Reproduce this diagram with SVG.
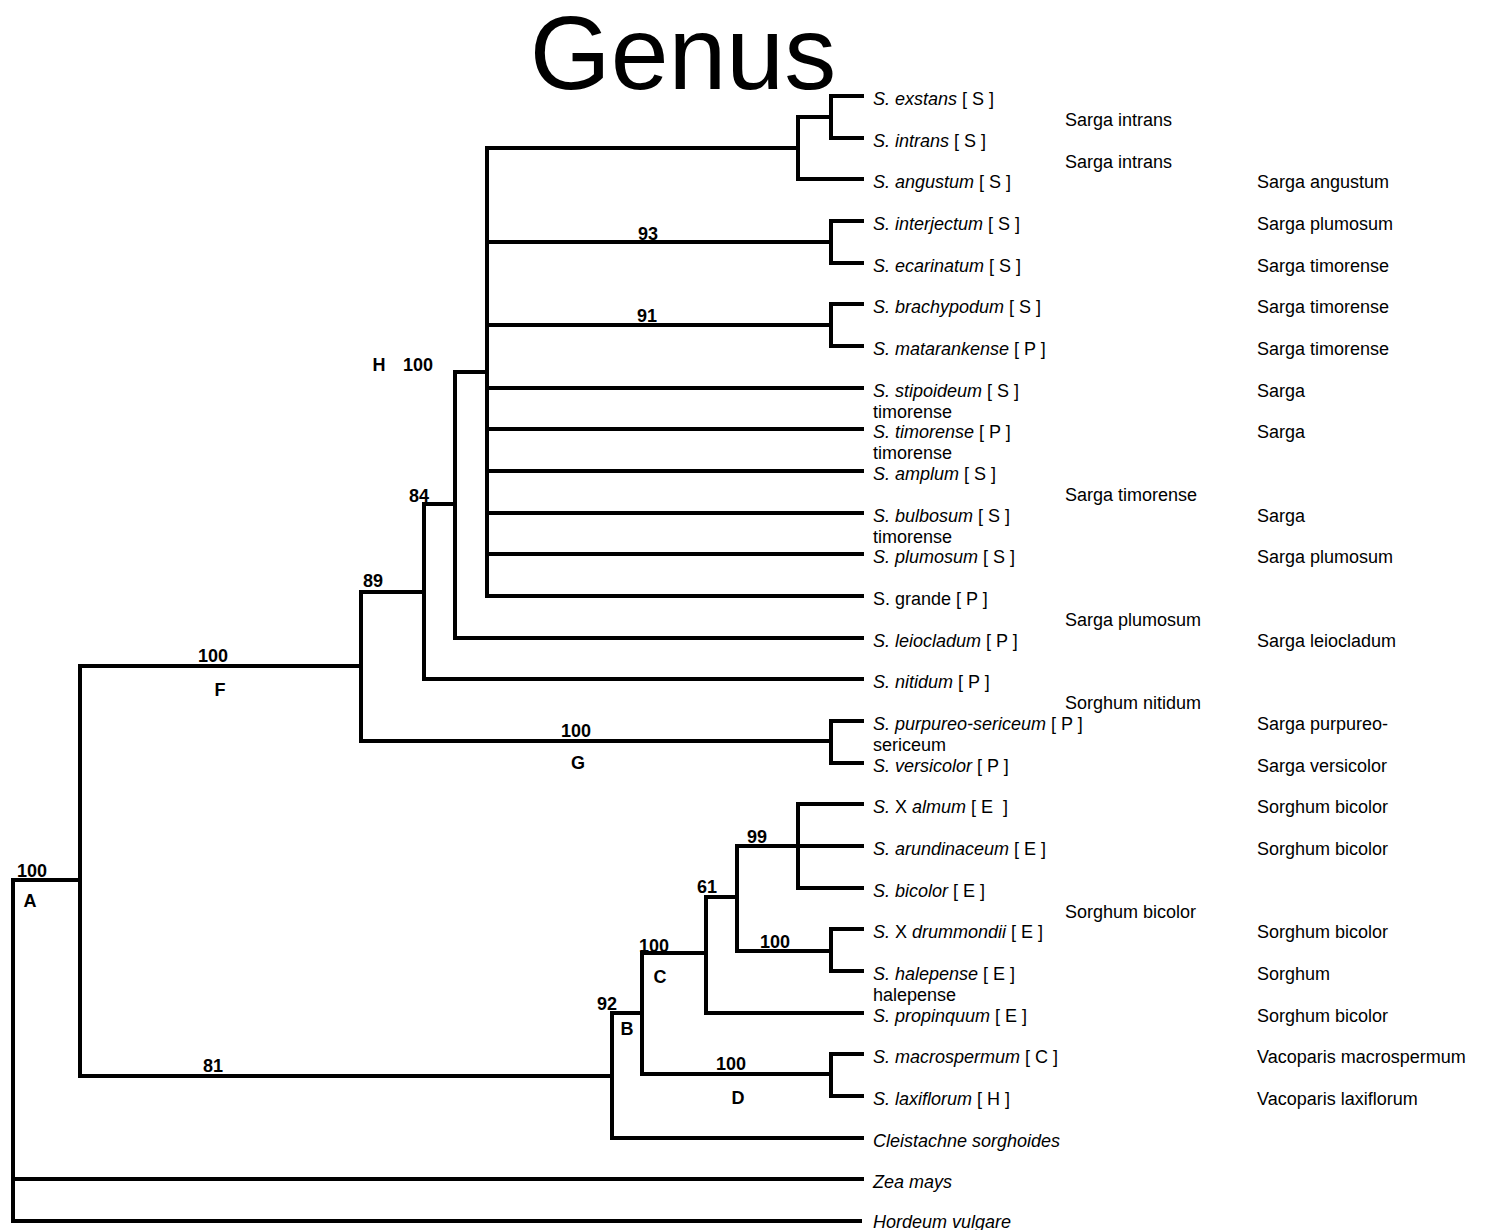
<svg xmlns="http://www.w3.org/2000/svg" width="1488" height="1230" viewBox="0 0 1488 1230">
<style>
.e{fill:none;stroke:#000;stroke-width:4;stroke-linejoin:miter;stroke-linecap:square}
text{font-family:"Liberation Sans",Arial,sans-serif;font-size:18px;fill:#000}
.i{font-style:italic}
.b{font-weight:bold;text-anchor:middle}
.title{font-size:104px;text-anchor:middle}
</style>
<rect width="1488" height="1230" fill="#fff"/>
<text class="title" x="683" y="89">Genus</text>
<g id="connectors">
<path class="e" d="M862,96H831V138H862M831,117H798M798,117V179H862M798,148H487"/>
<path class="e" d="M862,221H831V263H862M831,242H487"/>
<path class="e" d="M862,304H831V346H862M831,325H487"/>
<path class="e" d="M487,148V596H862M487,388H862M487,429H862M487,471H862M487,513H862M487,554H862"/>
<path class="e" d="M487,372H455V638H862"/>
<path class="e" d="M455,504H424V679H862"/>
<path class="e" d="M424,592H361V741H831M862,721H831V763H862"/>
<path class="e" d="M361,666H80V1076H612M80,880H13V1221H860M13,1179H862"/>
<path class="e" d="M612,1013V1138H862M612,1013H642M642,953V1074H831M862,1054H831V1096H862"/>
<path class="e" d="M642,953H706M706,897V1013H862M706,897H737M737,846V951H831M862,929H831V971H862"/>
<path class="e" d="M737,846H798M862,804H798V888H862M798,846H862"/>
</g>
<g id="support-labels">
<text class="b" x="648" y="240">93</text>
<text class="b" x="647" y="322">91</text>
<text class="b" x="379" y="371">H</text>
<text class="b" x="418" y="371">100</text>
<text class="b" x="419" y="502">84</text>
<text class="b" x="373" y="587">89</text>
<text class="b" x="213" y="662">100</text>
<text class="b" x="220" y="696">F</text>
<text class="b" x="576" y="737">100</text>
<text class="b" x="578" y="769">G</text>
<text class="b" x="32" y="877">100</text>
<text class="b" x="30" y="907">A</text>
<text class="b" x="213" y="1072">81</text>
<text class="b" x="607" y="1010">92</text>
<text class="b" x="627" y="1035">B</text>
<text class="b" x="654" y="952">100</text>
<text class="b" x="660" y="983">C</text>
<text class="b" x="707" y="893">61</text>
<text class="b" x="757" y="843">99</text>
<text class="b" x="775" y="948">100</text>
<text class="b" x="731" y="1070">100</text>
<text class="b" x="738" y="1104">D</text>
</g>
<g id="leaf-exstans"><text x="873" y="105"><tspan class="i">S. exstans</tspan> [ S ]</text></g>
<g id="leaf-intrans"><text x="873" y="147"><tspan class="i">S. intrans</tspan> [ S ]</text></g>
<g id="leaf-angustum"><text x="873" y="188"><tspan class="i">S. angustum</tspan> [ S ]</text></g>
<g id="leaf-interjectum"><text x="873" y="230"><tspan class="i">S. interjectum</tspan> [ S ]</text></g>
<g id="leaf-ecarinatum"><text x="873" y="272"><tspan class="i">S. ecarinatum</tspan> [ S ]</text></g>
<g id="leaf-brachypodum"><text x="873" y="313"><tspan class="i">S. brachypodum</tspan> [ S ]</text></g>
<g id="leaf-matarankense"><text x="873" y="355"><tspan class="i">S. matarankense</tspan> [ P ]</text></g>
<g id="leaf-stipoideum"><text x="873" y="397"><tspan class="i">S. stipoideum</tspan> [ S ]</text><text x="873" y="418">timorense</text></g>
<g id="leaf-timorense"><text x="873" y="438"><tspan class="i">S. timorense</tspan> [ P ]</text><text x="873" y="459">timorense</text></g>
<g id="leaf-amplum"><text x="873" y="480"><tspan class="i">S. amplum</tspan> [ S ]</text></g>
<g id="leaf-bulbosum"><text x="873" y="522"><tspan class="i">S. bulbosum</tspan> [ S ]</text><text x="873" y="543">timorense</text></g>
<g id="leaf-plumosum"><text x="873" y="563"><tspan class="i">S. plumosum</tspan> [ S ]</text></g>
<g id="leaf-grande"><text x="873" y="605">S. grande [ P ]</text></g>
<g id="leaf-leiocladum"><text x="873" y="647"><tspan class="i">S. leiocladum</tspan> [ P ]</text></g>
<g id="leaf-nitidum"><text x="873" y="688"><tspan class="i">S. nitidum</tspan> [ P ]</text></g>
<g id="leaf-purpureo"><text x="873" y="730"><tspan class="i">S. purpureo-sericeum</tspan> [ P ]</text><text x="873" y="751">sericeum</text></g>
<g id="leaf-versicolor"><text x="873" y="772"><tspan class="i">S. versicolor</tspan> [ P ]</text></g>
<g id="leaf-almum"><text x="873" y="813"><tspan class="i">S.</tspan> X <tspan class="i">almum</tspan> [ E&#160; ]</text></g>
<g id="leaf-arundinaceum"><text x="873" y="855"><tspan class="i">S. arundinaceum</tspan> [ E ]</text></g>
<g id="leaf-bicolor"><text x="873" y="897"><tspan class="i">S. bicolor</tspan> [ E ]</text></g>
<g id="leaf-drummondii"><text x="873" y="938"><tspan class="i">S.</tspan> X <tspan class="i">drummondii</tspan> [ E ]</text></g>
<g id="leaf-halepense"><text x="873" y="980"><tspan class="i">S. halepense</tspan> [ E ]</text><text x="873" y="1001">halepense</text></g>
<g id="leaf-propinquum"><text x="873" y="1022"><tspan class="i">S. propinquum</tspan> [ E ]</text></g>
<g id="leaf-macrospermum"><text x="873" y="1063"><tspan class="i">S. macrospermum</tspan> [ C ]</text></g>
<g id="leaf-laxiflorum"><text x="873" y="1105"><tspan class="i">S. laxiflorum</tspan> [ H ]</text></g>
<g id="leaf-cleistachne"><text class="i" x="873" y="1147">Cleistachne sorghoides</text></g>
<g id="leaf-zea"><text class="i" x="873" y="1188">Zea mays</text></g>
<g id="leaf-hordeum"><text class="i" x="873" y="1228">Hordeum vulgare</text></g>
<g id="names-col1">
<text x="1065" y="126">Sarga intrans</text>
<text x="1065" y="168">Sarga intrans</text>
<text x="1065" y="501">Sarga timorense</text>
<text x="1065" y="626">Sarga plumosum</text>
<text x="1065" y="709">Sorghum nitidum</text>
<text x="1065" y="918">Sorghum bicolor</text>
</g>
<g id="names-col2">
<text x="1257" y="188">Sarga angustum</text>
<text x="1257" y="230">Sarga plumosum</text>
<text x="1257" y="272">Sarga timorense</text>
<text x="1257" y="313">Sarga timorense</text>
<text x="1257" y="355">Sarga timorense</text>
<text x="1257" y="397">Sarga</text>
<text x="1257" y="438">Sarga</text>
<text x="1257" y="522">Sarga</text>
<text x="1257" y="563">Sarga plumosum</text>
<text x="1257" y="647">Sarga leiocladum</text>
<text x="1257" y="730">Sarga purpureo-</text>
<text x="1257" y="772">Sarga versicolor</text>
<text x="1257" y="813">Sorghum bicolor</text>
<text x="1257" y="855">Sorghum bicolor</text>
<text x="1257" y="938">Sorghum bicolor</text>
<text x="1257" y="980">Sorghum</text>
<text x="1257" y="1022">Sorghum bicolor</text>
<text x="1257" y="1063">Vacoparis macrospermum</text>
<text x="1257" y="1105">Vacoparis laxiflorum</text>
</g>
</svg>
